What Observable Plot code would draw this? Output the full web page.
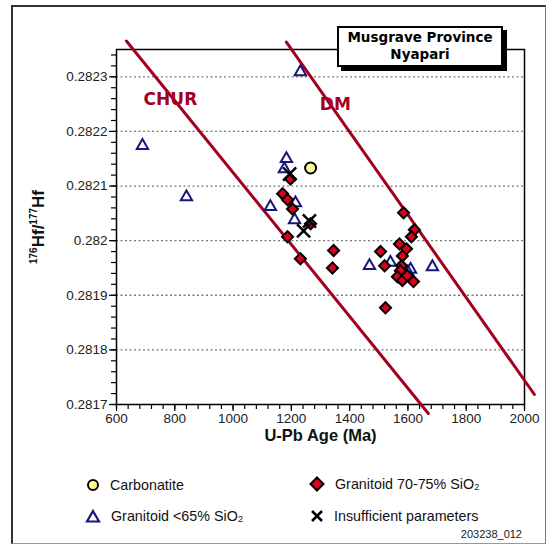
<!DOCTYPE html>
<html><head><meta charset="utf-8">
<script src="https://cdn.jsdelivr.net/npm/d3@7"></script>
<script src="https://cdn.jsdelivr.net/npm/@observablehq/plot@0.6"></script>
<style>
body{margin:0;background:#fff;}
#wrap{position:relative;width:552px;height:546px;overflow:hidden;font-family:"Liberation Sans",Arial,sans-serif;background:#fff;}
#border{position:absolute;left:11px;top:5px;width:535px;height:539px;border-top:2px solid #333;border-left:2px solid #333;border-right:1px solid #777;border-bottom:1px solid #999;box-sizing:border-box;}
#chart{position:absolute;left:0;top:0;}
#title{position:absolute;left:337px;top:26px;width:166px;height:41px;box-sizing:border-box;border:2px solid #000;background:#fff;box-shadow:4px 4px 0 #000;font-family:"DejaVu Sans",Verdana,sans-serif;font-weight:bold;font-size:13.5px;line-height:17px;text-align:center;padding-top:1px;color:#000;}
.leg{position:absolute;display:flex;align-items:center;font-size:14.3px;color:#111;}
.leg svg{margin-right:10px;}
#code{position:absolute;right:30px;top:528px;font-size:11px;color:#222;}
</style></head>
<body>
<div id="wrap">
  <div id="border"></div>
  <div id="chart"></div>
  <div id="title">Musgrave Province<br>Nyapari</div>
  <div id="legend"></div>
  <div id="code">203238_012</div>
</div>
<script>
// ---- data (U-Pb age in Ma, 176Hf/177Hf) ----
const carbAge = [1266];
const carbHf  = [0.282133];

const triAge = [689, 840, 1231, 1128, 1183, 1176, 1214, 1211, 1468, 1540, 1609, 1684, 1600];
const triHf  = [0.282174, 0.282080, 0.282309, 0.282062, 0.282150, 0.282131, 0.282069, 0.282038, 0.281954, 0.281960, 0.281947, 0.281952, 0.281942];

const diaAge = [1197, 1170, 1187, 1204, 1266, 1187, 1231, 1345, 1341,
                1585, 1622, 1612, 1571, 1506, 1595, 1581, 1520, 1578, 1574, 1564, 1581, 1598, 1619, 1523];
const diaHf  = [0.282113, 0.282086, 0.282075, 0.282058, 0.282031, 0.282007, 0.281967, 0.281982, 0.281950,
                0.282051, 0.282020, 0.282007, 0.281994, 0.281980, 0.281985, 0.281972, 0.281954, 0.281954, 0.281945, 0.281934, 0.281927, 0.281936, 0.281925, 0.281877];

const insAge = [1194, 1262, 1242];
const insHf  = [0.282122, 0.282036, 0.282018];

const churAge = [634, 1670];
const churHf  = [0.2823655, 0.2816835];
const dmAge   = [1183, 2034];
const dmHf    = [0.2823636, 0.2817183];

const lineLabels = ["CHUR", "DM"];
const lineLabelAge = [785, 1351];
const lineLabelHf  = [0.282259, 0.282250];

const xMajor = [600, 800, 1000, 1200, 1400, 1600, 1800, 2000];
const yMajor = [0.2817, 0.2818, 0.2819, 0.282, 0.2821, 0.2822, 0.2823];
const gridVals = [0.2818, 0.2819, 0.282, 0.2821, 0.2822, 0.2823];

const xTitle = "U-Pb Age (Ma)";
const yTitleParts = [["176", true], ["Hf/", false], ["177", true], ["Hf", false]];

const legendItems = [
  {key: "carb", label: "Carbonatite"},
  {key: "dia", label: "Granitoid 70-75% SiO₂"},
  {key: "tri", label: "Granitoid <65% SiO₂"},
  {key: "ins", label: "Insufficient parameters"}
];

// ---- build tables ----
const zip = (a, b) => a.map((v, i) => ({age: v, hf: b[i]}));
const carb = zip(carbAge, carbHf), tri = zip(triAge, triHf), dia = zip(diaAge, diaHf), ins = zip(insAge, insHf);
const chur = zip(churAge, churHf), dm = zip(dmAge, dmHf);
const labels = lineLabels.map((t, i) => ({t, age: lineLabelAge[i], hf: lineLabelHf[i]}));
const xMinor = d3.range(600, 2001, 40);
const yMinor = d3.range(0, 33).map(i => +(0.2817 + i * 0.00002).toFixed(6));
const yTitle = yTitleParts.map(d => d[0]).join("");

const RED = "#a3001f", NAVY = "#161680", DRED = "#e0001a";

const chart = Plot.plot({
  width: 552, height: 460,
  marginLeft: 116, marginRight: 28, marginTop: 49, marginBottom: 56,
  x: {domain: [600, 2000]},
  y: {domain: [0.2817, 0.28235]},
  style: {fontFamily: "'Liberation Sans', Arial, sans-serif", fontSize: "13.5px", color: "#000", background: "transparent", overflow: "visible"},
  marks: [
    Plot.ruleY(gridVals, {stroke: "#7a7a7a", strokeDasharray: "2,2.5", strokeWidth: 1.3}),
    Plot.axisX({ticks: xMinor, tickSize: 5, tickFormat: () => "", label: null, strokeWidth: 1.2}),
    Plot.axisX({ticks: xMajor, tickSize: 7, tickPadding: 2, tickFormat: d => String(d), label: null, strokeWidth: 1.2, fill: "#222"}),
    Plot.axisY({ticks: yMinor, tickSize: 5, tickFormat: () => "", label: null, strokeWidth: 1.2}),
    Plot.axisY({ticks: yMajor, tickSize: 7, tickPadding: 2, tickFormat: d => String(+d.toFixed(4)), label: null, strokeWidth: 1.2, fill: "#222"}),
    Plot.frame({stroke: "#000", strokeWidth: 1.5}),
    Plot.text([xTitle], {frameAnchor: "bottom", dy: 36, fontWeight: "bold", fontSize: 16.5, fill: "#111"}),
    Plot.text([yTitle], {frameAnchor: "left", textAnchor: "middle", rotate: -90, dx: -78, dy: 0, fontWeight: "bold", fontSize: 17, fill: "#111"}),
    Plot.line(chur, {x: "age", y: "hf", stroke: RED, strokeWidth: 3}),
    Plot.line(dm, {x: "age", y: "hf", stroke: RED, strokeWidth: 3}),
    Plot.text(labels, {x: "age", y: "hf", text: "t", fill: RED, fontWeight: "bold", fontSize: 17, fontFamily: "'DejaVu Sans', Verdana, sans-serif"}),
    Plot.dot(tri, {x: "age", y: "hf", symbol: "triangle", r: 4.2, stroke: NAVY, strokeWidth: 2, fill: "none"}),
    Plot.dot(carb, {x: "age", y: "hf", symbol: "circle", r: 5.5, stroke: "#000", strokeWidth: 2, fill: "#ffff99"}),
    Plot.dot(dia, {x: "age", y: "hf", symbol: "diamond2", r: 5, stroke: "#000", strokeWidth: 2, fill: DRED}),
    Plot.dot(ins, {x: "age", y: "hf", symbol: "times", r: 6, stroke: "#000", strokeWidth: 2.5})
  ]
});
// superscripts for the y title
d3.select(chart).selectAll("text").filter(function () { return this.textContent === yTitle; }).each(function () {
  const t = d3.select(this);
  t.text("");
  let up = false;
  yTitleParts.forEach(([s, sup]) => {
    const ts = t.append("tspan").text(s);
    if (sup) { ts.attr("font-size", 10).attr("dy", up ? 0 : -7); up = true; }
    else { ts.attr("dy", up ? 7 : 0); up = false; }
  });
});
document.getElementById("chart").appendChild(chart);

// ---- legend ----
const sym = {
  carb: '<svg width="14" height="14"><circle cx="7" cy="7" r="5" fill="#ffff99" stroke="#000" stroke-width="2"/></svg>',
  dia: '<svg width="16" height="16"><polygon points="8,1.5 14.5,8 8,14.5 1.5,8" fill="' + DRED + '" stroke="#000" stroke-width="2"/></svg>',
  tri: '<svg width="16" height="14"><polygon points="8,2 14,12.5 2,12.5" fill="none" stroke="' + NAVY + '" stroke-width="2.2"/></svg>',
  ins: '<svg width="14" height="14"><path d="M2,2L12,12M12,2L2,12" stroke="#000" stroke-width="2.6"/></svg>'
};
const pos = [[86, 477], [309, 476], [85, 508], [310, 508]];
const leg = document.getElementById("legend");
legendItems.forEach((d, i) => {
  const el = document.createElement("div");
  el.className = "leg";
  el.style.left = pos[i][0] + "px";
  el.style.top = pos[i][1] + "px";
  el.innerHTML = sym[d.key] + "<span>" + d.label + "</span>";
  leg.appendChild(el);
});
</script>
</body></html>
